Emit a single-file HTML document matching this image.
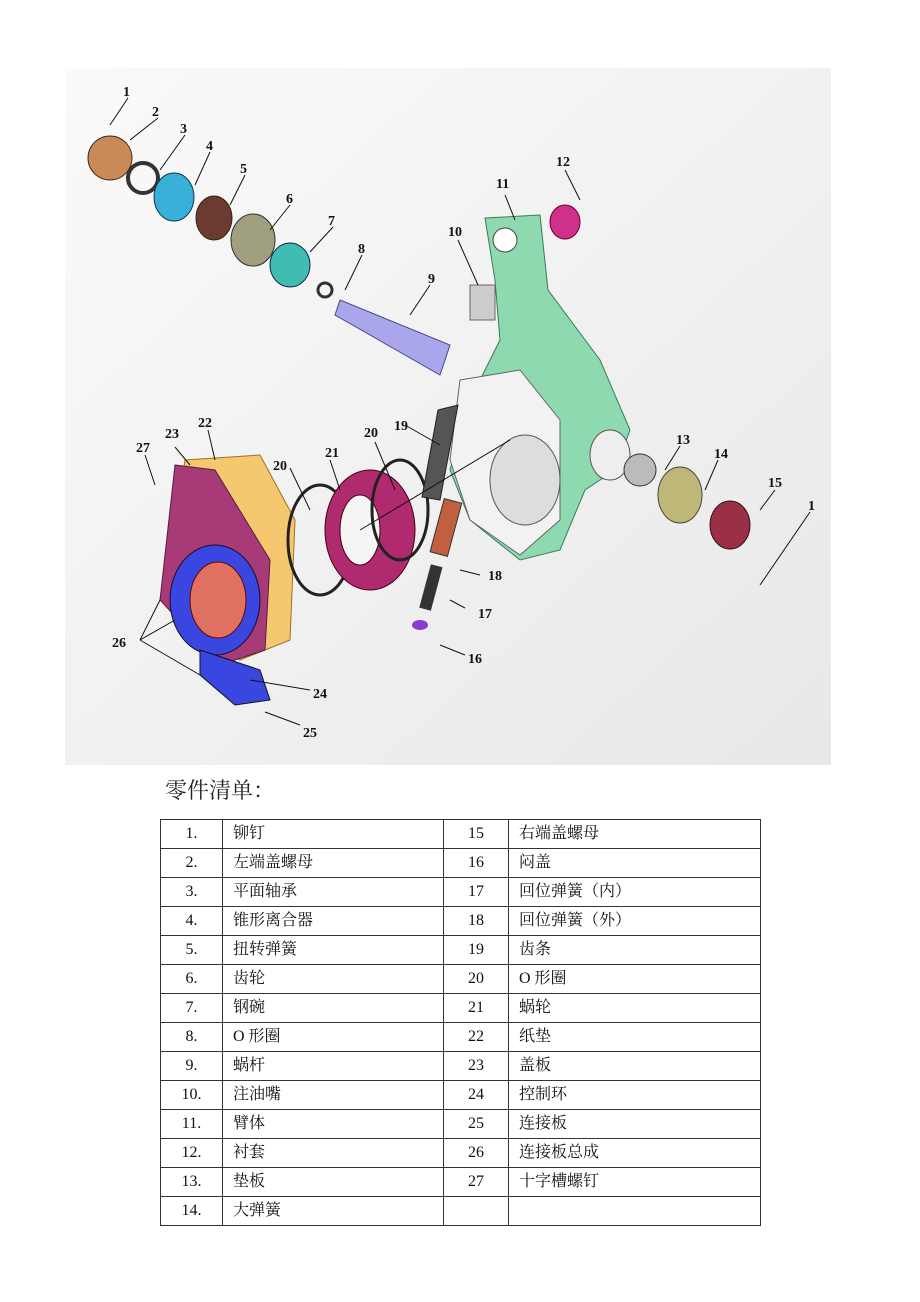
<!DOCTYPE html>
<html><head><meta charset="utf-8"><style>
body{margin:0;background:#fff;width:920px;height:1302px;position:relative;font-family:"Liberation Serif","Noto Serif CJK SC",serif;}
.t{position:absolute;left:165px;top:774px;font-size:22px;color:#222;font-family:"Liberation Serif","Noto Serif CJK SC",serif;}
table{position:absolute;left:160px;top:819px;border-collapse:collapse;width:601px;font-size:16px;}
td{border:1px solid #333;height:28px;padding:0 0 0 10px;color:#111;line-height:28px;vertical-align:middle;}
td.n{text-align:center;padding:0;}
</style></head><body>
<svg width="920" height="770" style="position:absolute;left:0;top:0" font-family="Liberation Serif,serif" font-weight="bold" font-size="14">
<defs><linearGradient id="bg" x1="0" y1="0" x2="1" y2="1"><stop offset="0" stop-color="#fafafa"/><stop offset="1" stop-color="#e8e8e8"/></linearGradient></defs>
<rect x="65" y="68" width="766" height="697" fill="url(#bg)"/>
<path d="M485 218 L540 215 L548 290 L600 360 L630 430 L615 470 L585 490 L560 550 L520 560 L470 520 L450 470 L470 400 L500 340 L495 280 Z" fill="#8fd9b0" stroke="#3a7a5a"/>
<circle cx="505" cy="240" r="12" fill="#fff" stroke="#444"/>
<path d="M460 380 L520 370 L560 420 L560 520 L520 555 L470 520 L450 460 Z" fill="#f2f2f2" stroke="#666"/>
<ellipse cx="525" cy="480" rx="35" ry="45" fill="#ddd" stroke="#555"/>
<ellipse cx="610" cy="455" rx="20" ry="25" fill="#eee" stroke="#555"/>
<path d="M340 300 L450 345 L440 375 L335 315 Z" fill="#a9a6ec" stroke="#4a4a8a"/>
<circle cx="110" cy="158" r="22" fill="#c98a5a" stroke="#4a2a10"/>
<circle cx="143" cy="178" r="15" fill="none" stroke="#333" stroke-width="4"/>
<ellipse cx="174" cy="197" rx="20" ry="24" fill="#3ab0d8" stroke="#135"/>
<ellipse cx="214" cy="218" rx="18" ry="22" fill="#6b3a30" stroke="#321"/>
<ellipse cx="253" cy="240" rx="22" ry="26" fill="#a0a080" stroke="#333"/>
<ellipse cx="290" cy="265" rx="20" ry="22" fill="#40bcb0" stroke="#125"/>
<circle cx="325" cy="290" r="7" fill="none" stroke="#333" stroke-width="3"/>
<rect x="470" y="285" width="25" height="35" fill="#ccc" stroke="#666"/>
<ellipse cx="565" cy="222" rx="15" ry="17" fill="#d0308a" stroke="#602"/>
<circle cx="640" cy="470" r="16" fill="#bbb" stroke="#333"/>
<ellipse cx="680" cy="495" rx="22" ry="28" fill="#bdb878" stroke="#444"/>
<ellipse cx="730" cy="525" rx="20" ry="24" fill="#9a3048" stroke="#311"/>
<path d="M185 460 L260 455 L295 520 L290 640 L240 660 L165 600 Z" fill="#f5c870" stroke="#a07020"/>
<path d="M175 465 L215 470 L270 560 L265 650 L220 665 L160 600 Z" fill="#a83a78" stroke="#502040"/>
<ellipse cx="215" cy="600" rx="45" ry="55" fill="#3a46e0" stroke="#112"/>
<ellipse cx="218" cy="600" rx="28" ry="38" fill="#e07060" stroke="#600"/>
<path d="M200 650 L260 670 L270 700 L235 705 L200 675 Z" fill="#3a46e0" stroke="#112"/>
<ellipse cx="320" cy="540" rx="32" ry="55" fill="none" stroke="#222" stroke-width="3"/>
<ellipse cx="370" cy="530" rx="45" ry="60" fill="#b02a70" stroke="#401"/>
<ellipse cx="360" cy="530" rx="20" ry="35" fill="#f5f5f5" stroke="#401"/>
<ellipse cx="400" cy="510" rx="28" ry="50" fill="none" stroke="#222" stroke-width="3"/>
<path d="M438 410 L458 405 L440 500 L422 497 Z" fill="#555" stroke="#222"/>
<rect x="437" y="500" width="18" height="55" fill="#c06040" stroke="#333" transform="rotate(15 446 527)"/>
<rect x="425" y="565" width="12" height="45" fill="#333" transform="rotate(15 431 587)"/>
<ellipse cx="420" cy="625" rx="8" ry="5" fill="#8a3ad0"/>
<g stroke="#111" stroke-width="1" fill="none">
<path d="M128 98 L110 125 M158 118 L130 140 M185 135 L160 170 M210 152 L195 185 M245 175 L230 205 M290 205 L270 230 M333 227 L310 252 M362 255 L345 290 M430 285 L410 315 M458 240 L478 285 M505 195 L515 220 M565 170 L580 200 M680 446 L665 470 M718 460 L705 490 M775 490 L760 510 M810 512 L760 585 M510 440 L360 530"/>
<path d="M145 455 L155 485 M175 447 L190 465 M208 430 L215 460 M290 468 L310 510 M330 460 L340 490 M375 442 L395 490 M405 425 L440 445 M460 570 L480 575 M450 600 L465 608 M440 645 L465 655 M140 640 L160 600 M140 640 L200 675 M140 640 L175 620 M250 680 L310 690 M265 712 L300 725"/>
</g>
<g fill="#111">
<text x="123" y="96">1</text><text x="152" y="116">2</text><text x="180" y="133">3</text><text x="206" y="150">4</text><text x="240" y="173">5</text><text x="286" y="203">6</text><text x="328" y="225">7</text><text x="358" y="253">8</text><text x="428" y="283">9</text>
<text x="448" y="236">10</text><text x="496" y="188">11</text><text x="556" y="166">12</text><text x="676" y="444">13</text><text x="714" y="458">14</text><text x="768" y="487">15</text><text x="808" y="510">1</text>
<text x="468" y="663">16</text><text x="478" y="618">17</text><text x="488" y="580">18</text><text x="394" y="430">19</text><text x="364" y="437">20</text><text x="273" y="470">20</text><text x="325" y="457">21</text><text x="198" y="427">22</text><text x="165" y="438">23</text><text x="136" y="452">27</text><text x="112" y="647">26</text><text x="313" y="698">24</text><text x="303" y="737">25</text>
</g>
</svg>
<div class="t">零件清单：</div>
<table>
<colgroup><col style="width:62px"><col style="width:221px"><col style="width:65px"><col></colgroup>
<tr><td class="n">1.</td><td>铆钉</td><td class="n">15</td><td>右端盖螺母</td></tr>
<tr><td class="n">2.</td><td>左端盖螺母</td><td class="n">16</td><td>闷盖</td></tr>
<tr><td class="n">3.</td><td>平面轴承</td><td class="n">17</td><td>回位弹簧（内）</td></tr>
<tr><td class="n">4.</td><td>锥形离合器</td><td class="n">18</td><td>回位弹簧（外）</td></tr>
<tr><td class="n">5.</td><td>扭转弹簧</td><td class="n">19</td><td>齿条</td></tr>
<tr><td class="n">6.</td><td>齿轮</td><td class="n">20</td><td>O 形圈</td></tr>
<tr><td class="n">7.</td><td>钢碗</td><td class="n">21</td><td>蜗轮</td></tr>
<tr><td class="n">8.</td><td>O 形圈</td><td class="n">22</td><td>纸垫</td></tr>
<tr><td class="n">9.</td><td>蜗杆</td><td class="n">23</td><td>盖板</td></tr>
<tr><td class="n">10.</td><td>注油嘴</td><td class="n">24</td><td>控制环</td></tr>
<tr><td class="n">11.</td><td>臂体</td><td class="n">25</td><td>连接板</td></tr>
<tr><td class="n">12.</td><td>衬套</td><td class="n">26</td><td>连接板总成</td></tr>
<tr><td class="n">13.</td><td>垫板</td><td class="n">27</td><td>十字槽螺钉</td></tr>
<tr><td class="n">14.</td><td>大弹簧</td><td></td><td></td></tr>
</table>
</body></html>
